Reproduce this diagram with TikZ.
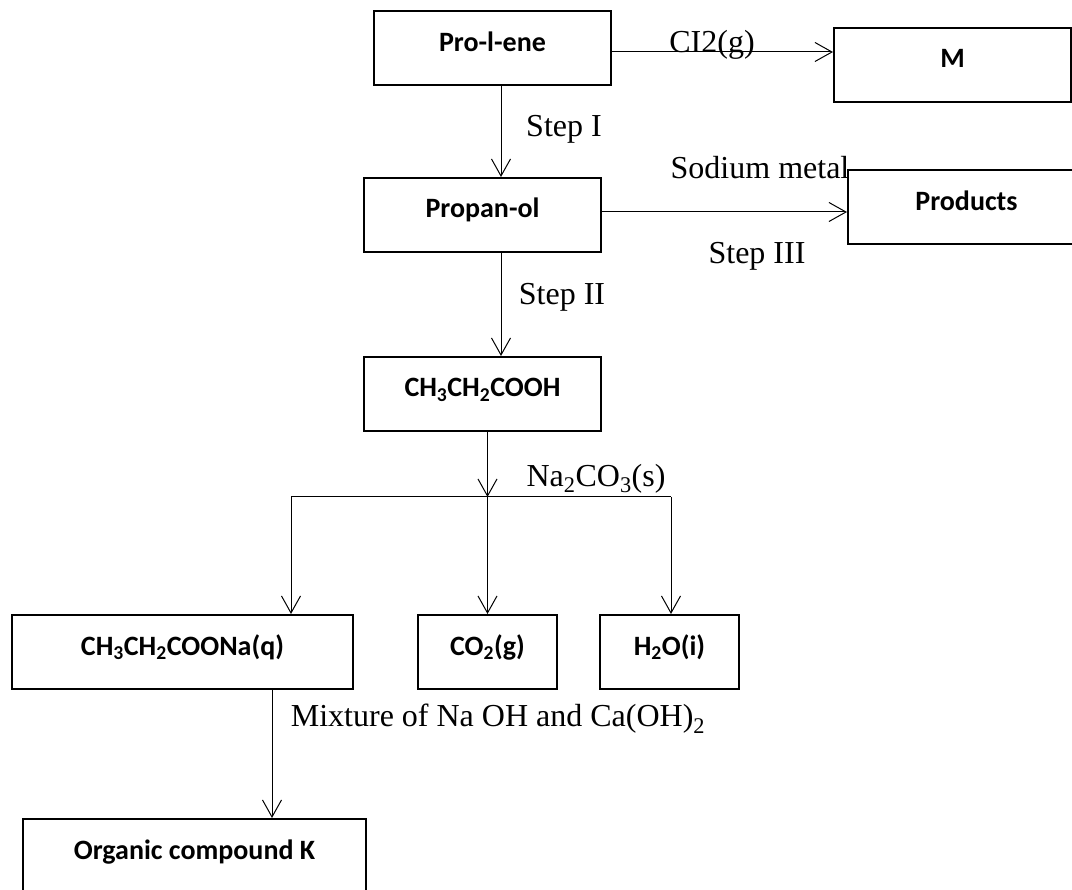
\documentclass[tikz,border=0pt]{standalone}
\usepackage{fontspec}
\setmainfont{Liberation Serif}
\newfontfamily\boxfont{Carlito}
\usetikzlibrary{arrows.meta}

\begin{document}
\begin{tikzpicture}[
    x=1pt, y=-1pt,
    box/.style={rectangle, draw=black, line width=2pt, inner sep=0pt, minimum width=237pt, minimum height=74pt, text height=20pt, text depth=14pt, font=\boxfont\bfseries\fontsize{28}{34}\selectfont},
    lbl/.style={inner sep=0pt, font=\fontsize{32}{38}\selectfont},
    arr/.style={-{Straight Barb[length=17pt, width=19pt]}, line width=1pt},
    ln/.style={line width=1pt}
]
    \useasboundingbox (0,0) rectangle (1072,890);
    \clip (0,0) rectangle (1072,890);

    \node [box] (pro) at (492.5,48.5) {Pro-l-ene};
    \node [box] (m) at (952.5,65) {M};
    \node [box] (prop) at (482.5,215) {Propan-ol};
    \node [box] (prod) at (966.5,207.5) {Products};
    \node [box] (acid) at (482.5,394) {CH\textsubscript{3}CH\textsubscript{2}COOH};
    \node [box, minimum width=341pt] (salt) at (182.5,652) {CH\textsubscript{3}CH\textsubscript{2}COONa(q)};
    \node [box, minimum width=139pt] (co2) at (487.5,652) {CO\textsubscript{2}(g)};
    \node [box, minimum width=139pt] (water) at (669.5,652) {H\textsubscript{2}O(i)};
    \node [box, minimum width=343pt] (orgk) at (194.5,856) {Organic compound K};

    \coordinate (rowA) at (0,52);
    \coordinate (rowB) at (0,212);
    \coordinate (colA) at (501,0);
    \coordinate (colK) at (272,0);
    \coordinate (split) at (487.5,497);
    \coordinate (splitL) at (291,497);
    \coordinate (splitR) at (671,497);

    \draw [arr] (pro.east |- rowA) -- (m.west |- rowA);
    \draw [arr] (pro.south -| colA) -- (prop.north -| colA);
    \draw [arr] (prop.east |- rowB) -- (prod.west |- rowB);
    \draw [arr] (prop.south -| colA) -- (acid.north -| colA);
    \draw [arr] (acid.south -| split) -- (split);
    \draw [ln] (splitL) -- (splitR);
    \draw [arr] (splitL) -- (salt.north -| splitL);
    \draw [arr] (split) -- (co2.north);
    \draw [arr] (splitR) -- (water.north -| splitR);
    \draw [arr] (salt.south -| colK) -- (orgk.north -| colK);

    \node [lbl] (cl) at (712,45) {CI2(g)};
    \node [lbl] (s1) at (564,129) {Step I};
    \node [lbl] (na) at (760,168) {Sodium metal};
    \node [lbl] (s3) at (757,256) {Step III};
    \node [lbl] (s2) at (562,297.5) {Step II};
    \node [lbl] (carb) at (596,479) {Na\textsubscript{2}CO\textsubscript{3}(s)};
    \node [lbl] (mix) at (498,719) {Mixture of Na OH and Ca(OH)\textsubscript{2}};
\end{tikzpicture}
\end{document}
